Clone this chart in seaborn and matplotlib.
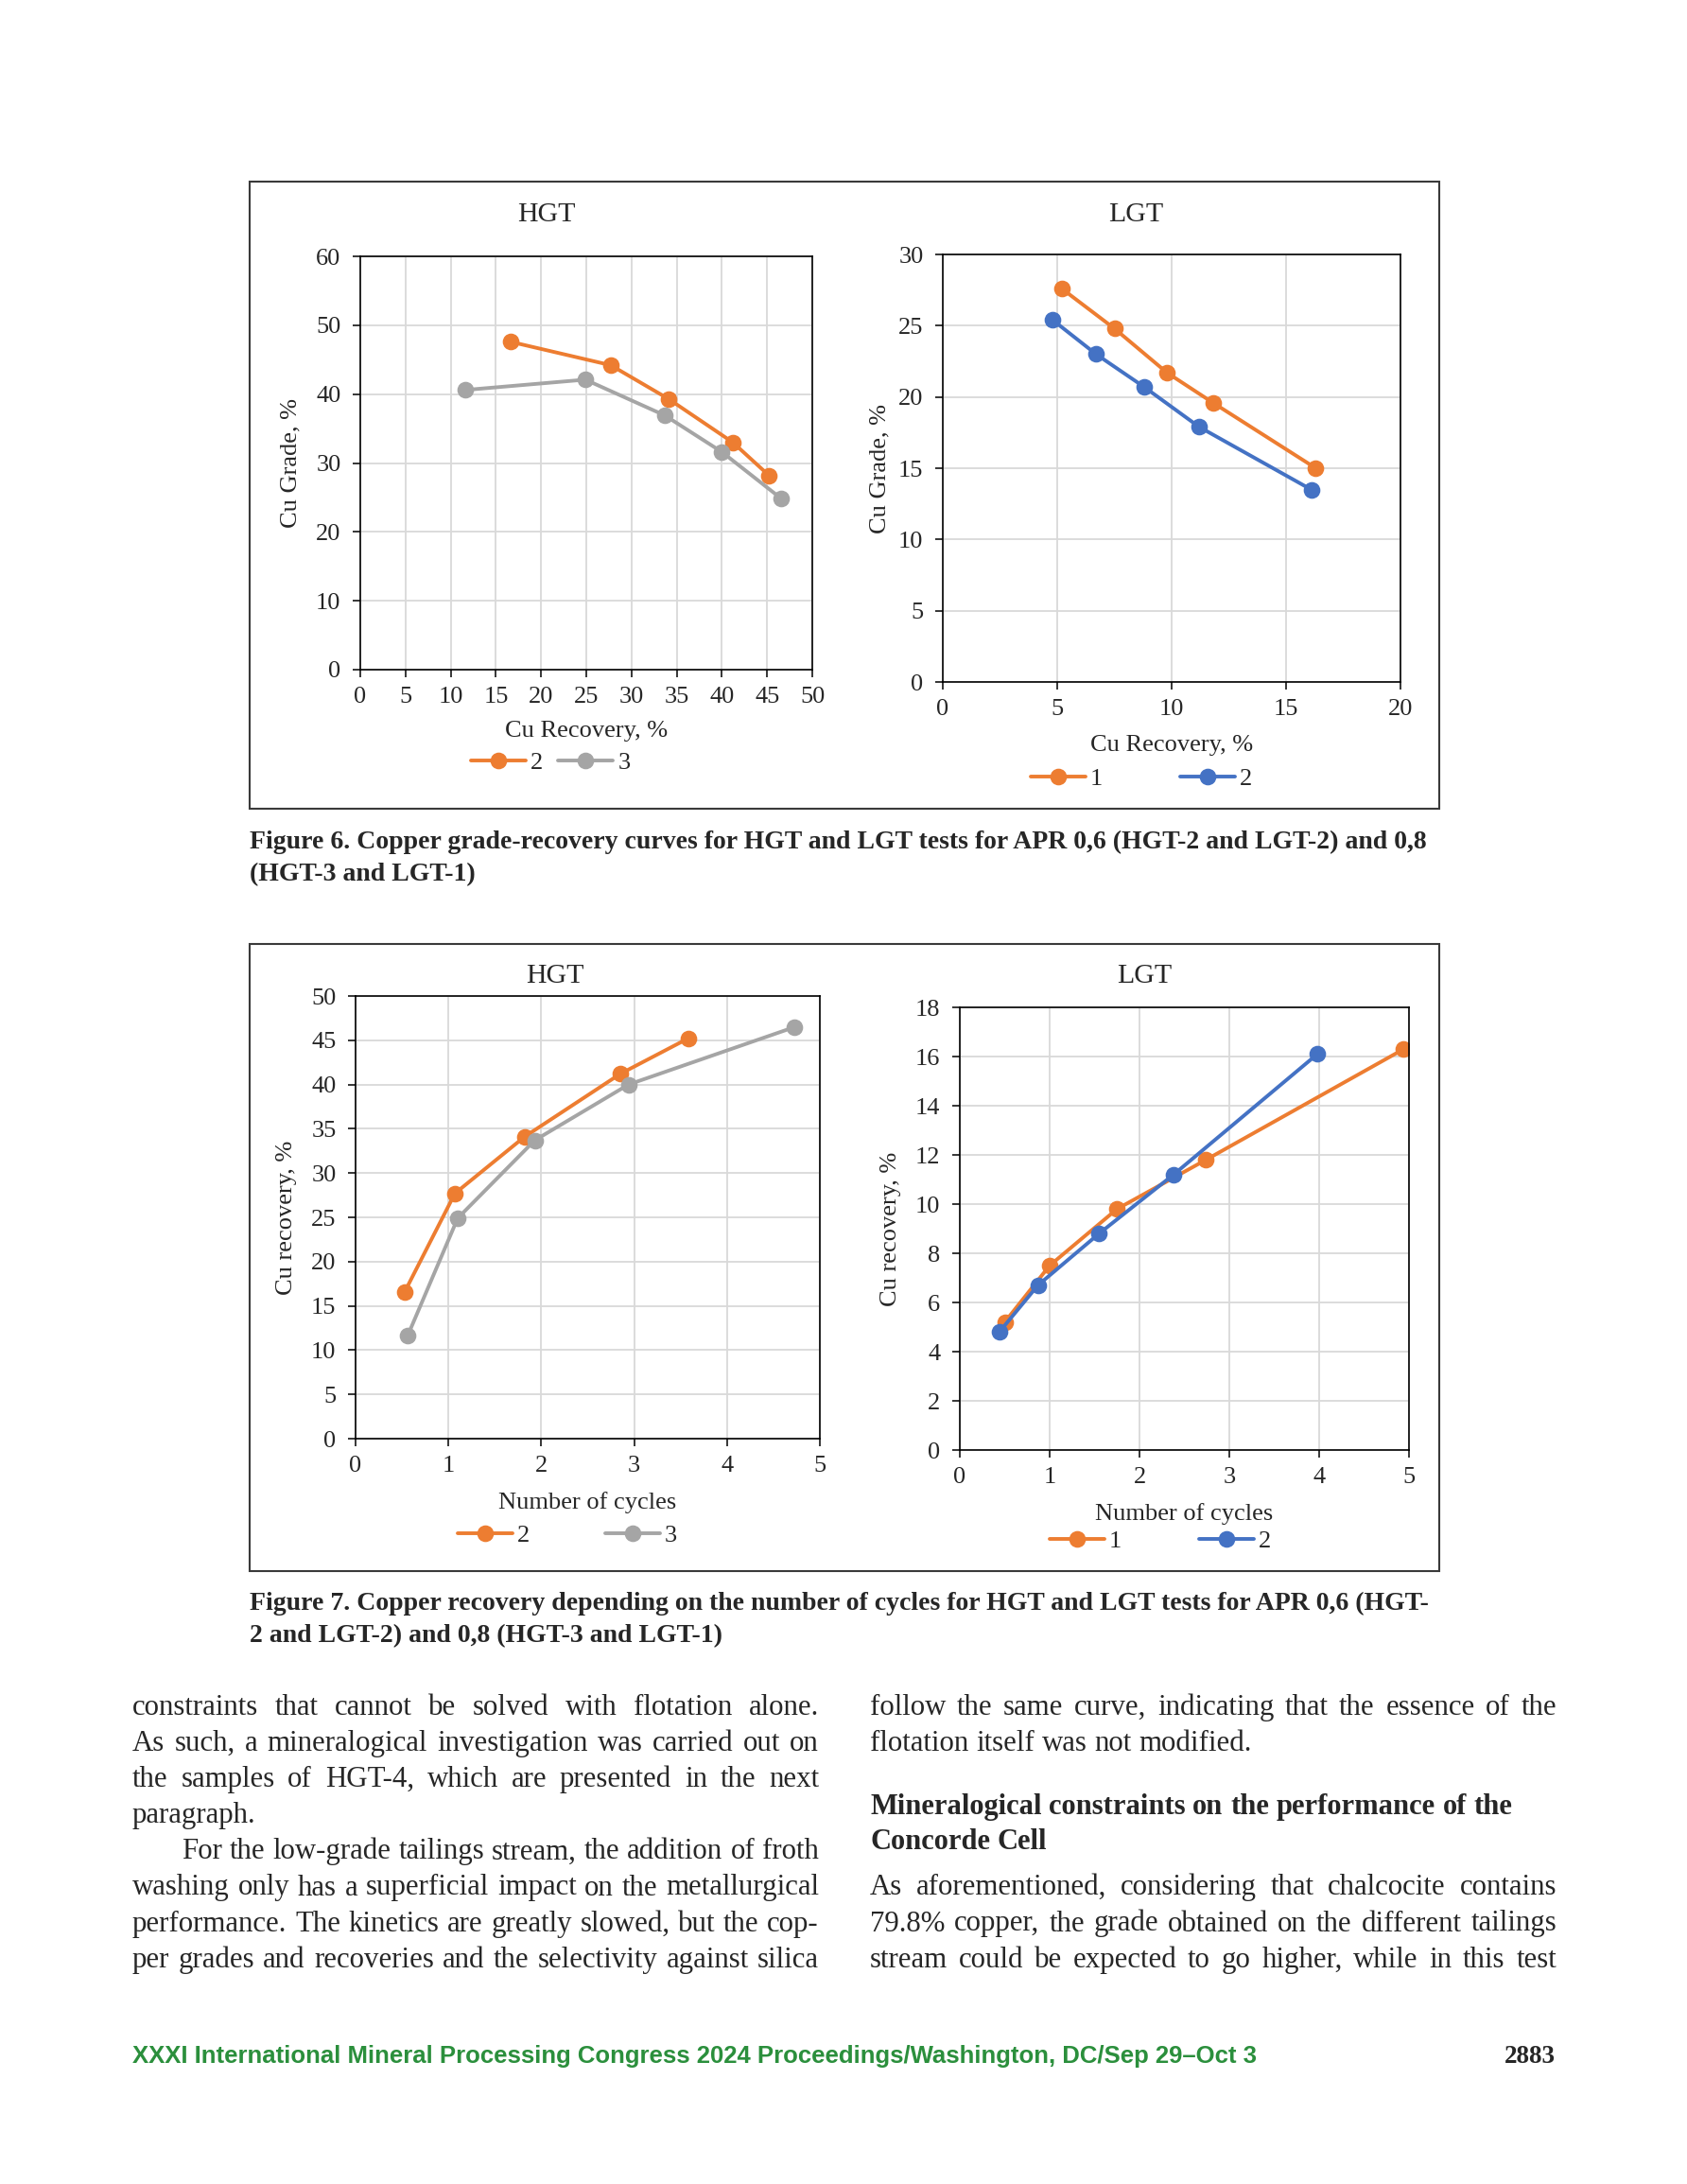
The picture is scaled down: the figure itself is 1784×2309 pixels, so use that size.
import numpy as np
import pandas as pd
import seaborn as sns
import matplotlib.pyplot as plt
from matplotlib.patches import Rectangle

W, H = 1784, 2309

# --- data -------------------------------------------------------------------
# recovery (%) of each test, shared by figure 6 (x) and figure 7 (y)
hgt_rec_2 = [16.6, 27.7, 34.1, 41.2, 45.2]
hgt_rec_3 = [11.6, 24.9, 33.7, 40.0, 46.5]
lgt_rec_1 = [5.2, 7.5, 9.8, 11.8, 16.3]
lgt_rec_2 = [4.8, 6.7, 8.8, 11.2, 16.1]

# figure 6: grade (%)
hgt_grade_2 = [47.6, 44.2, 39.3, 33.0, 28.2]
hgt_grade_3 = [40.6, 42.1, 36.9, 31.6, 24.9]
lgt_grade_1 = [27.6, 24.8, 21.7, 19.6, 15.0]
lgt_grade_2 = [25.4, 23.0, 20.7, 17.9, 13.5]

# figure 7: number of cycles
hgt_cyc_2 = [0.53, 1.07, 1.82, 2.85, 3.58]
hgt_cyc_3 = [0.56, 1.10, 1.93, 2.94, 4.73]
lgt_cyc_1 = [0.50, 1.00, 1.75, 2.74, 4.94]
lgt_cyc_2 = [0.44, 0.87, 1.55, 2.38, 3.98]

ORANGE, GREY, BLUE = '#ED7D31', '#A5A5A5', '#4472C4'

caption6 = ['Figure 6. Copper grade-recovery curves for HGT and LGT tests for APR 0,6 (HGT-2 and LGT-2) and 0,8',
            '(HGT-3 and LGT-1)']
caption7 = ['Figure 7. Copper recovery depending on the number of cycles for HGT and LGT tests for APR 0,6 (HGT-',
            '2 and LGT-2) and 0,8 (HGT-3 and LGT-1)']

left_lines = ['constraints that cannot be solved with flotation alone.',
              'As such, a mineralogical investigation was carried out on',
              'the samples of HGT-4, which are presented in the next',
              'paragraph.',
              'For the low-grade tailings stream, the addition of froth',
              'washing only has a superficial impact on the metallurgical',
              'performance. The kinetics are greatly slowed, but the cop-',
              'per grades and recoveries and the selectivity against silica']
right_top = ['follow the same curve, indicating that the essence of the',
             'flotation itself was not modified.']
heading = ['Mineralogical constraints on the performance of the',
           'Concorde Cell']
right_bottom = ['As aforementioned, considering that chalcocite contains',
                '79.8% copper, the grade obtained on the different tailings',
                'stream could be expected to go higher, while in this test']
footer = 'XXXI International Mineral Processing Congress 2024 Proceedings/Washington, DC/Sep 29\u2013Oct 3'
page_no = '2883'

# --- setup ------------------------------------------------------------------
sns.set_style('white')
SERIF = ['Liberation Serif', 'DejaVu Serif']
plt.rcParams['font.family'] = SERIF

fig = plt.figure(figsize=(W / 100, H / 100), dpi=100)
renderer = fig.canvas.get_renderer()


def fx(x):
    return x / W


def fy(y):
    return 1 - y / H


def add_ax(x0, y0, x1, y1):
    return fig.add_axes([fx(x0), fy(y1), (x1 - x0) / W, (y1 - y0) / H])


def text_width(s, size, weight='normal', family=SERIF):
    t = fig.text(0, 0, s, fontsize=size, weight=weight, family=family)
    w = t.get_window_extent(renderer).width
    t.remove()
    return w


def draw_chart(ax, xs, ys, labels, colors, xlim, ylim, xticks, yticks,
               xlabel, ylabel, title, title_xy, leg_xy, colspace, ylabelpad, xlabelpad):
    frame = pd.DataFrame({
        'x': [v for x in xs for v in x],
        'y': [v for y in ys for v in y],
        'series': [lab for lab, x in zip(labels, xs) for _ in x],
    })
    sns.lineplot(data=frame, x='x', y='y', hue='series', hue_order=labels,
                 palette=colors, marker='o', markersize=11.5,
                 linewidth=2.8, estimator=None, sort=False, legend=False, ax=ax)
    for line in ax.get_lines():
        line.set_markeredgecolor(line.get_color())
        line.set_markerfacecolor(line.get_color())
        line.set_markeredgewidth(1.2)
    ax.set_xlim(xlim)
    ax.set_ylim(ylim)
    ax.set_xticks(xticks)
    ax.set_yticks(yticks)
    ax.grid(True, color='#d9d9d9', linewidth=1.3)
    ax.set_axisbelow(True)
    for s in ax.spines.values():
        s.set_color('black')
        s.set_linewidth(1.2)
    ax.tick_params(direction='out', length=5.8, width=1.1, color='black',
                   labelsize=19, left=True, bottom=True)
    ax.tick_params(axis='y', pad=9)
    ax.tick_params(axis='x', pad=7)
    ax.set_xlabel(xlabel, fontsize=19, labelpad=xlabelpad)
    ax.set_ylabel(ylabel, fontsize=19, labelpad=ylabelpad)
    fig.text(fx(title_xy[0]), fy(title_xy[1]), title, fontsize=21.5,
             ha='center', va='center')
    ax.legend(handles=ax.get_lines()[:len(labels)], labels=labels, loc='center',
              bbox_to_anchor=(fx(leg_xy[0]), fy(leg_xy[1])),
              bbox_transform=fig.transFigure, ncol=2, frameon=False,
              fontsize=19, handlelength=2.2, handletextpad=0.2,
              columnspacing=colspace, borderpad=0)


# --- figure frames ----------------------------------------------------------
for y0, y1 in [(192, 855), (998, 1661)]:
    fig.patches.append(Rectangle((fx(264), fy(y1)), (1522 - 264) / W, (y1 - y0) / H,
                                 transform=fig.transFigure, fill=False,
                                 edgecolor='#3a3a3a', linewidth=1.5))

# --- figure 6 ---------------------------------------------------------------
ax1 = add_ax(381, 271, 859, 708)
draw_chart(ax1, [hgt_rec_2, hgt_rec_3], [hgt_grade_2, hgt_grade_3], ['2', '3'],
           [ORANGE, GREY], (0, 50), (0, 60), np.arange(0, 51, 5), np.arange(0, 61, 10),
           'Cu Recovery, %', 'Cu Grade, %', 'HGT', (578, 227), (582, 806), 0.6, 11, 10)

ax2 = add_ax(997, 269, 1481, 721)
draw_chart(ax2, [lgt_rec_1, lgt_rec_2], [lgt_grade_1, lgt_grade_2], ['1', '2'],
           [ORANGE, BLUE], (0, 20), (0, 30), np.arange(0, 21, 5), np.arange(0, 31, 5),
           'Cu Recovery, %', 'Cu Grade, %', 'LGT', (1201, 227), (1207, 823), 3.1, 6, 12)

# --- figure 7 ---------------------------------------------------------------
ax3 = add_ax(376, 1053, 867, 1521)
draw_chart(ax3, [hgt_cyc_2, hgt_cyc_3], [hgt_rec_2, hgt_rec_3], ['2', '3'],
           [ORANGE, GREY], (0, 5), (0, 50), np.arange(0, 6, 1), np.arange(0, 51, 5),
           'Number of cycles', 'Cu recovery, %', 'HGT', (587, 1032), (600, 1623), 3.0, 11, 12)

ax4 = add_ax(1015, 1065, 1490, 1533)
draw_chart(ax4, [lgt_cyc_1, lgt_cyc_2], [lgt_rec_1, lgt_rec_2], ['1', '2'],
           [ORANGE, BLUE], (0, 5), (0, 18), np.arange(0, 6, 1), np.arange(0, 19, 2),
           'Number of cycles', 'Cu recovery, %', 'LGT', (1210, 1032), (1227, 1629), 3.1, 11, 12)

# --- captions ---------------------------------------------------------------
cap_size = 20 * 1246 / text_width(caption6[0], 20, 'bold')
for lines, base in [(caption6, 897), (caption7, 1702)]:
    for i, line in enumerate(lines):
        fig.text(fx(264), fy(base + 34 * i), line, fontsize=cap_size,
                 weight='bold', va='baseline', ha='left')


# --- body text --------------------------------------------------------------
def draw_line(line, x0, x1, y, size, weight='normal', justify=True, indent=0):
    words = line.split(' ')
    texts = [fig.text(0, 0, w, fontsize=size, weight=weight, va='baseline', ha='left')
             for w in words]
    widths = [t.get_window_extent(renderer).width for t in texts]
    if justify and len(words) > 1:
        gap = (x1 - x0 - indent - sum(widths)) / (len(words) - 1)
    else:
        gap = text_width('a a', size, weight) - text_width('aa', size, weight)
    x = x0 + indent
    for t, w in zip(texts, widths):
        t.set_position((fx(x), fy(y)))
        x += w + gap


COL_W = 726
INDENT = 52
justified = [l for i, l in enumerate(left_lines) if i != 3] + [right_top[0]] + right_bottom
ratios = []
for l in justified:
    ind = INDENT if l == left_lines[4] else 0
    ratios.append((COL_W - ind) / text_width(l, 24))
body_size = 24 * min(ratios)

for i, line in enumerate(left_lines):
    draw_line(line, 140, 140 + COL_W, 1813 + 38.1 * i, body_size,
              justify=(i != 3), indent=INDENT if i == 4 else 0)

RX = 920
draw_line(right_top[0], RX, RX + COL_W, 1813, body_size)
draw_line(right_top[1], RX, RX + COL_W, 1851, body_size, justify=False)
head_size = 24 * 680 / text_width(heading[0], 24, 'bold')
draw_line(heading[0], RX, RX + COL_W, 1918, head_size, 'bold', justify=False)
draw_line(heading[1], RX, RX + COL_W, 1955, head_size, 'bold', justify=False)
for i, line in enumerate(right_bottom):
    draw_line(line, RX, RX + COL_W, 2003 + 38.5 * i, body_size)

# --- footer -----------------------------------------------------------------
SANS = ['Liberation Sans', 'DejaVu Sans']
foot_size = 20 * 1191 / text_width(footer, 20, 'bold', SANS)
fig.text(fx(140), fy(2181), footer, fontsize=foot_size, weight='bold',
         family=SANS, color='#2b8f3c', va='baseline', ha='left')
fig.text(fx(1645), fy(2181), page_no, fontsize=19.5, weight='bold',
         va='baseline', ha='right')

fig.savefig('out.png', dpi=100, facecolor='white')
